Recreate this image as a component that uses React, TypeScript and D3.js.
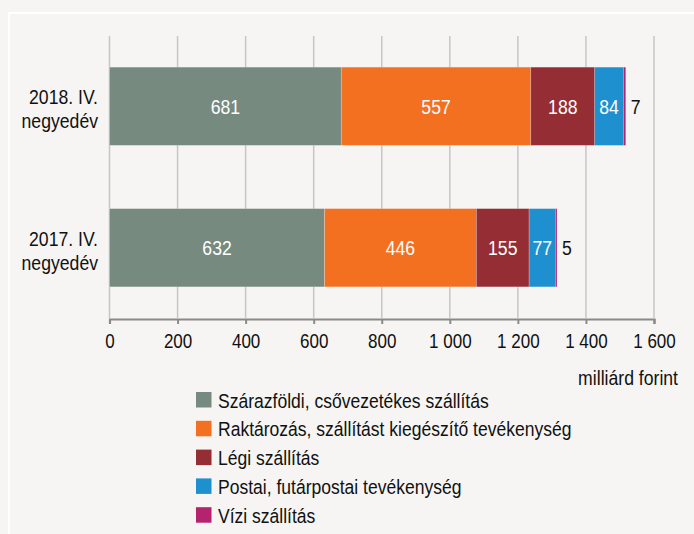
import React, { useRef, useEffect } from "react";
import * as d3 from "d3";

const categories = ["2018. IV. negyedév", "2017. IV. negyedév"];
const seriesNames = [
  "Szárazföldi, csővezetékes szállítás",
  "Raktározás, szállítást kiegészítő tevékenység",
  "Légi szállítás",
  "Postai, futárpostai tevékenység",
  "Vízi szállítás",
];
const values2018 = [681, 557, 188, 84, 7];
const values2017 = [632, 446, 155, 77, 5];
const colors = ["#778a80", "#f37021", "#952d35", "#1e90d0", "#b5226e"];
const ticks = [0, 200, 400, 600, 800, 1000, 1200, 1400, 1600];
const unitLabel = "milliárd forint";

const W = 694;
const H = 534;
const FONT = "'Liberation Sans', Arial, sans-serif";
const NARROW = 0.86; // imitate a narrow sans by squeezing horizontally

export default function App() {
  const ref = useRef<SVGSVGElement>(null);

  useEffect(() => {
    document.body.style.margin = "0";
    const svg = d3.select(ref.current);
    svg.selectAll("*").remove();
    svg.attr("width", W).attr("height", H).style("font-family", FONT).style("display", "block");

    // narrow text helper
    const label = (parent: any, x: number, y: number, txt: string | number, size: number,
      anchor: string, fill: string, sx = NARROW) =>
      parent.append("text")
        .attr("transform", `translate(${x},${y}) scale(${sx},1)`)
        .attr("text-anchor", anchor).attr("font-size", size).attr("fill", fill)
        .text(txt);

    svg.append("rect").attr("width", W).attr("height", H).attr("fill", "#f6f5f3");
    svg.append("line").attr("x1", 9).attr("x2", 9).attr("y1", 12).attr("y2", H)
      .attr("stroke", "#fff").attr("stroke-width", 2);
    svg.append("line").attr("x1", 8).attr("x2", W).attr("y1", 13).attr("y2", 13)
      .attr("stroke", "#fff").attr("stroke-width", 2);

    const x = d3.scaleLinear().domain([0, 1600]).range([109.5, 654]);
    const y = d3.scaleBand<string>().domain(categories).range([36, 318])
      .paddingInner(0.447).paddingOuter(0.22);

    svg.append("g").selectAll("line").data(ticks).join("line")
      .attr("x1", (d) => x(d)).attr("x2", (d) => x(d))
      .attr("y1", 36).attr("y2", 318)
      .attr("stroke", "#c6c6c8").attr("stroke-width", 1.5);

    const rows = [values2018, values2017];
    rows.forEach((vals, ri) => {
      const cat = categories[ri];
      const stacked = d3.cumsum(vals);
      const g = svg.append("g");
      const cy = y(cat)! + y.bandwidth() / 2;
      vals.forEach((v, i) => {
        const x0 = x(stacked[i] - v);
        const x1 = x(stacked[i]);
        g.append("rect")
          .attr("x", x0).attr("y", y(cat)!)
          .attr("width", x1 - x0).attr("height", y.bandwidth())
          .attr("fill", colors[i])
          .attr("stroke", "rgba(255,255,255,0.35)").attr("stroke-width", 0.6);
        if (i < vals.length - 1) {
          label(g, (x0 + x1) / 2, cy + 7.5, v, 20.5, "middle", "#fff");
        } else {
          label(g, x1 + 5, cy + 7.5, v, 20.5, "start", "#111");
        }
      });
      const parts = cat.split(" ");
      label(svg, 98, cy - 2, parts.slice(0, 2).join(" "), 20.5, "end", "#111");
      label(svg, 98, cy + 22, parts.slice(2).join(" "), 20.5, "end", "#111");
    });

    const axis = svg.append("g").attr("transform", "translate(0,319)")
      .call(d3.axisBottom(x).tickValues(ticks).tickSize(5).tickPadding(9)
        .tickFormat((d) => d3.format(",")(d as number).replace(/,/g, " ")));
    axis.select(".domain").attr("stroke", "#8a8a8a").attr("stroke-width", 2.2);
    axis.selectAll(".tick line").attr("stroke", "#8a8a8a").attr("stroke-width", 2);
    axis.selectAll(".tick text").attr("font-size", 20.5).attr("fill", "#111")
      .attr("font-family", FONT).attr("transform", `scale(0.83,1)`);

    label(svg, 678, 385, unitLabel, 20.5, "end", "#111");

    const lg = svg.append("g").attr("transform", "translate(196,392)");
    seriesNames.forEach((name, i) => {
      const row = lg.append("g").attr("transform", `translate(0,${i * 28.8})`);
      row.append("rect").attr("width", 15.5).attr("height", 15.5).attr("fill", colors[i]);
      label(row, 22, 15.5, name, 20.5, "start", "#111", 0.855);
    });
  }, []);

  return <svg ref={ref} />;
}
